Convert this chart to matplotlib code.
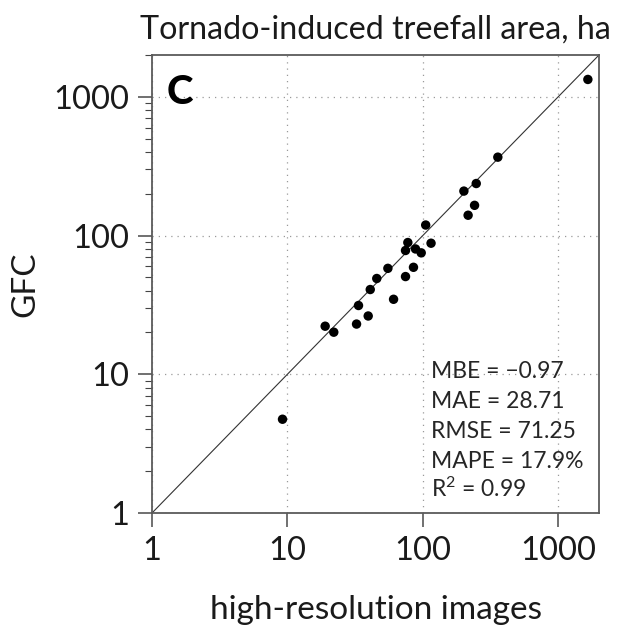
import matplotlib
matplotlib.use("Agg")
import matplotlib.pyplot as plt
from matplotlib.ticker import LogLocator, NullFormatter, FixedLocator, FixedFormatter

plt.rcParams['font.family'] = ['Lato', 'DejaVu Sans']
plt.rcParams['mathtext.fontset'] = 'custom'
plt.rcParams['mathtext.rm'] = 'Lato'
plt.rcParams['mathtext.it'] = 'Lato:italic'
plt.rcParams['mathtext.bf'] = 'Lato:bold'

# Treefall area (ha): high-resolution imagery vs. GFC estimate
hires_area = [1655, 358, 248, 201, 241, 216, 105, 77.5, 115, 74.5, 88.3, 97.3,
              55.2, 85.3, 74.5, 45.7, 40.9, 60.8, 33.5, 39.5, 32.4, 19.0, 22.0, 9.2]
gfc_area = [1333, 367, 237, 209, 165, 140, 119, 89, 88, 78, 80, 75,
            58, 59, 50.6, 49, 40.8, 34.7, 31.3, 26.3, 23.0, 22.2, 20.1, 4.74]

tick_values = [1, 10, 100, 1000]
tick_labels = ["1", "10", "100", "1000"]
axis_limits = [1, 2000]

stats_lines = ["MBE = \u22120.97", "MAE = 28.71", "RMSE = 71.25",
               "MAPE = 17.9%", "R$^\\mathrm{2}$ = 0.99"]

title_text = "Tornado-induced treefall area, ha"
panel_letter = "C"

W, H = 619, 625
fig = plt.figure(figsize=(W / 100, H / 100), dpi=100)
ax = fig.add_axes([152 / W, 1 - 513 / H, (599 - 152) / W, (513 - 55) / H])

ax.set_xscale('log')
ax.set_yscale('log')
ax.set_xlim(axis_limits)
ax.set_ylim(axis_limits)

# 1:1 reference line
ax.plot(axis_limits, axis_limits, color='#333333', lw=0.8, zorder=2)
ax.scatter(hires_area, gfc_area, s=46, color='black', edgecolors='none', zorder=3)

spine_col = '#5a5a5a'
for sp in ax.spines.values():
    sp.set_color(spine_col)
    sp.set_linewidth(1.3)

ax.xaxis.set_major_locator(FixedLocator(tick_values))
ax.xaxis.set_major_formatter(FixedFormatter(tick_labels))
ax.yaxis.set_major_locator(FixedLocator(tick_values))
ax.yaxis.set_major_formatter(FixedFormatter(tick_labels))
ax.xaxis.set_minor_locator(FixedLocator([]))
ax.yaxis.set_minor_locator(LogLocator(base=10, subs=range(2, 10)))
ax.yaxis.set_minor_formatter(NullFormatter())

ax.tick_params(axis='both', which='major', direction='out', length=10, width=1.4,
               color='#707070', labelsize=23.5, pad=6.5, labelcolor='#1a1a1a')
ax.tick_params(axis='y', which='minor', direction='out', length=5, width=0.8,
               color='#444444')

ax.grid(True, which='major', linestyle=(0, (1, 4)), color='#9a9a9a', lw=0.9)
ax.set_axisbelow(True)

ax.set_xlabel("high-resolution images", fontsize=24, labelpad=21, color='#1a1a1a')
ax.set_ylabel("GFC", fontsize=24, labelpad=9, color='#1a1a1a')
ax.set_title(title_text, fontsize=23.2, pad=11.5, color='#1a1a1a')

ax.text((167 - 152) / (599 - 152), (513 - 104) / (513 - 55), panel_letter,
        transform=ax.transAxes, fontsize=29, fontweight='black',
        ha='left', va='baseline', color='black')

baselines = [378, 408, 438, 468, 497]
for txt, by in zip(stats_lines, baselines):
    ax.text((431 - 152) / (599 - 152), (513 - by) / (513 - 55), txt,
            transform=ax.transAxes, fontsize=16.5,
            ha='left', va='baseline', color='#262626')

fig.savefig("out.png", dpi=100)
